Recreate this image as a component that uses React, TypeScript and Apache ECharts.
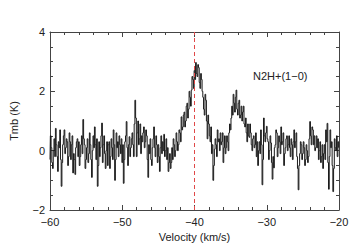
import React, { useEffect, useRef } from "react";
import * as echarts from "echarts";

const velocityStart = -60;
const channelWidth = 0.1;
const tmb: number[] = [
  -0.3, 0.5, 0.1, -0.4, -0.6, 0.0, 0.4, -0.2, 0.75, 0.2,
  -0.2, -0.7, 0.3, 0.1, 0.7, -0.3, -1.2, -0.4, 0.2, 0.5,
  0.7, -0.1, 0.1, 0.4, 0.3, -0.5, -0.2, 0.6, 0.3, -0.3,
  0.2, 0.5, -0.75, -0.1, -0.3, -0.8, 0.1, 0.3, 0.4, -0.2,
  0.3, -0.5, -0.2, 0.2, 0.5, -0.1, 1.05, 0.4, 0.2, -0.6,
  -0.3, 0.1, 0.4, -0.4, -0.1, 0.6, 0.2, -0.3, -0.9, 0.0,
  0.5, 0.1, 0.8, 0.2, -0.3, 0.4, -1.2, -0.5, 0.3, -0.2,
  0.1, 0.5, 0.93, -0.4, 0.2, 0.5, -0.1, -0.6, 0.0, 0.3,
  -0.5, 0.2, 0.3, -0.6, -0.2, 0.4, 0.1, -0.3, 0.7, 0.2,
  -1.0, -0.3, 0.6, 0.1, 0.3, -0.2, 0.5, 0.2, -0.1, 0.4,
  -0.4, 0.2, -1.1, -0.3, 0.3, 0.5, 0.98, 0.1, -0.5, 0.2,
  0.47, -0.2, 0.1, 0.4, 0.6, 0.2, -0.2, 0.9, 1.7, 1.1,
  -0.2, 0.6, 1.0, 0.2, 0.4, 0.9, -0.1, 0.5, 0.3, 0.6,
  0.8, 0.1, 0.3, 0.7, 0.5, -0.3, -0.9, 0.2, -0.1, 0.4,
  -0.3, -0.5, 0.1, 0.4, 0.8, 0.1, -0.2, 0.5, 0.2, -0.4,
  0.2, -0.2, -0.7, 0.1, 0.5, -0.1, 0.3, 0.0, 0.55, -0.2,
  0.0, 0.4, -0.3, 0.1, -0.7, -0.4, -0.1, -0.6, -0.4, 0.1,
  -0.3, 0.4, 0.2, -0.2, 0.0, 0.6, 0.3, 0.0, 0.2, 0.7,
  0.6, 0.3, 1.14, 0.7, 0.8, 1.2, 1.3, 0.8, 1.0, 1.5,
  1.6, 1.1, 1.4, 2.0, 1.8, 1.5, 2.04, 2.5, 2.4, 2.1,
  2.7, 2.4, 2.97, 2.6, 2.5, 2.9, 2.8, 2.3, 2.1, 2.6,
  2.4, 2.0, 1.8, 1.4, 1.2, 1.9, 1.7, 1.0, 0.4, 1.2,
  0.9, 0.5, 0.3, 0.8, -0.1, 0.2, -1.0, -0.5, 0.05, 0.4,
  0.2, -0.2, 0.7, 0.3, 0.4, 0.0, 0.6, 0.2, 0.3, 0.6,
  -0.4, 0.1, 0.5, -0.1, 0.1, 0.5, 0.3, 0.0, 0.6, 0.9,
  0.7, 1.1, 1.5, 1.2, 1.9, 1.6, 1.3, 1.8, 2.04, 1.4,
  1.2, 1.6, 1.7, 1.1, 1.2, 1.5, 1.0, 1.3, 1.5, 0.9,
  0.8, 1.1, 0.6, 0.3, 0.9, 0.5, 0.45, 0.9, 0.6, 0.2,
  0.0, 0.4, 0.5, 0.1, 0.2, 0.6, -0.2, 0.3, -0.5, 0.0,
  0.3, -0.1, 0.7, 0.2, -1.15, -0.3, 1.1, 0.5, 0.3, 0.6,
  0.82, 0.4, 0.3, -0.3, 0.0, 0.5, 0.26, -0.4, -0.96, -0.2,
  -0.58, 0.1, 0.2, 0.7, 0.6, -0.2, 0.1, 0.5, 0.3, -0.1,
  0.8, 0.2, 0.3, 0.6, -0.5, -0.1, 0.1, 0.4, 0.5, 0.0,
  0.2, 0.5, 0.1, -0.2, 0.4, 0.2, -0.3, 0.3, 0.7, 0.1,
  0.3, 0.6, -0.2, -0.6, -1.32, -0.5, -0.1, 0.3, 0.2, -0.3,
  -0.1, 0.3, 0.1, -0.5, -0.3, 0.2, 0.0, -0.4, -0.2, 0.4,
  0.98, 0.5, 0.2, 0.8, 0.7, 0.2, 0.5, 0.0, 0.1, 0.5,
  0.1, 0.4, -0.3, 0.0, 0.3, -0.4, -0.2, 0.2, -0.6, -0.1,
  0.2, -0.3, 0.7, 0.3, 0.92, -0.4, -1.3, -0.2, 0.7, 0.1,
  0.3, -0.5, -1.38, -0.6, 0.4, 0.1, 0.0, 0.5, -0.2, 0.3,
  0.1,
];
const systemicVelocity = -40;
const lineLabel = "N2H+(1−0)";
const xName = "Velocity (km/s)";
const yName = "Tmb (K)";

const FONT = "Liberation Sans, Arial, sans-serif";
const minus = (v: number) => String(v).replace("-", "−");

export default function App() {
  const ref = useRef<HTMLDivElement>(null);
  useEffect(() => {
    if (!ref.current) return;
    const chart = echarts.init(ref.current, null, { renderer: "svg" });
    const data = tmb.map((t, i) => [
      +(velocityStart + i * channelWidth).toFixed(2),
      t,
    ]);
    const axisLine = { show: true, onZero: false, lineStyle: { color: "#444", width: 1 } };
    const tick = { show: true, inside: true, length: 5, lineStyle: { color: "#444" } };
    const minorTickX = { show: true, splitNumber: 5, length: 3, lineStyle: { color: "#444" } };
    const minorTickY = { show: true, splitNumber: 4, length: 3, lineStyle: { color: "#444" } };
    const label = { color: "#222", fontSize: 11, fontFamily: FONT, formatter: minus };
    chart.setOption({
      animation: false,
      backgroundColor: "#fff",
      grid: { left: 50, right: 21, top: 32, bottom: 39 },
      xAxis: [
        {
          type: "value",
          min: -60,
          max: -20,
          interval: 10,
          position: "bottom",
          axisLine,
          axisTick: tick,
          minorTick: { ...minorTickX },
          axisLabel: { ...label, margin: 6 },
          splitLine: { show: false },
          name: xName,
          nameLocation: "middle",
          nameGap: 18,
          nameTextStyle: { color: "#222", fontSize: 11, fontFamily: FONT },
        },
        {
          type: "value",
          min: -60,
          max: -20,
          interval: 10,
          position: "top",
          axisLine,
          axisTick: tick,
          minorTick: { ...minorTickX },
          axisLabel: { show: false },
          splitLine: { show: false },
        },
      ],
      yAxis: [
        {
          type: "value",
          min: -2,
          max: 4,
          interval: 2,
          position: "left",
          axisLine,
          axisTick: tick,
          minorTick: { ...minorTickY },
          axisLabel: { ...label, margin: 5, padding: [0, 0, 5, 0] },
          splitLine: { show: false },
          name: yName,
          nameLocation: "middle",
          nameGap: 31,
          nameTextStyle: { color: "#222", fontSize: 11, fontFamily: FONT },
        },
        {
          type: "value",
          min: -2,
          max: 4,
          interval: 2,
          position: "right",
          axisLine,
          axisTick: tick,
          minorTick: { ...minorTickY },
          axisLabel: { show: false },
          splitLine: { show: false },
        },
      ],
      graphic: [
        {
          type: "text",
          left: 253,
          top: 70,
          style: {
            text: lineLabel,
            fill: "#222",
            font: `11px ${FONT}`,
          },
        },
      ],
      series: [
        {
          type: "line",
          step: "middle",
          data,
          showSymbol: false,
          symbol: "none",
          lineStyle: { color: "#1a1a1a", width: 1 },
          markLine: {
            silent: true,
            symbol: "none",
            label: { show: false },
            lineStyle: { color: "#e04848", type: [4, 3], width: 1 },
            data: [{ xAxis: systemicVelocity }],
          },
        },
      ],
    });
    return () => chart.dispose();
  }, []);
  return (
    <div
      ref={ref}
      style={{ position: "fixed", left: 0, top: 0, width: 360, height: 249 }}
    />
  );
}
